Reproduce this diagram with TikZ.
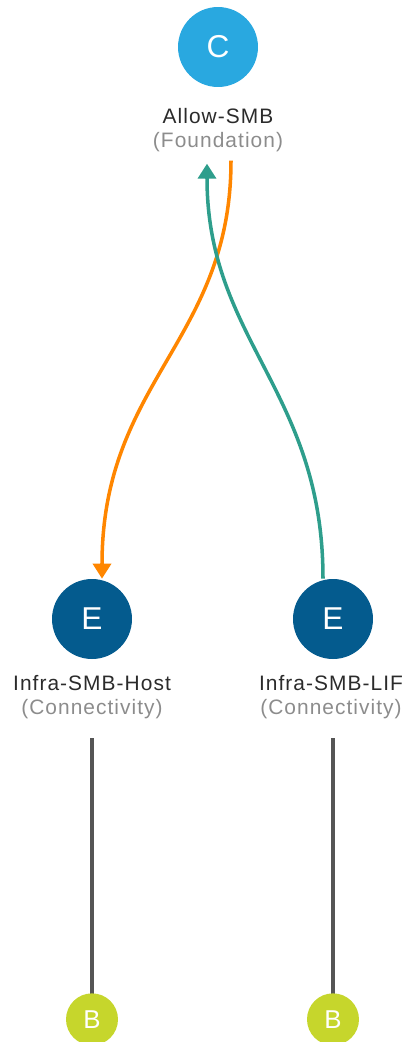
\documentclass[tikz,border=0pt]{standalone}
\usepackage{fontspec}
\setmainfont{Liberation Sans}
\newfontfamily\lblfont{Liberation Sans}[LetterSpace=5]
\usepackage{xcolor}
\usetikzlibrary{arrows.meta,calc}
\definecolor{capBlue}{HTML}{29A8E0}
\definecolor{epgBlue}{HTML}{045B8E}
\definecolor{bdGreen}{HTML}{C6D62C}
\definecolor{consOrange}{HTML}{FF8600}
\definecolor{provTeal}{HTML}{2E9E8C}
\definecolor{linkGray}{HTML}{555555}
\definecolor{lblDark}{HTML}{2B2B2B}
\definecolor{lblGray}{HTML}{8C8C8C}

\begin{document}
\begin{tikzpicture}[x=0.02cm,y=-0.02cm]
	\tikzstyle{every node}+=[inner sep=0pt]
	\tikzstyle{tag}=[circle,minimum size=1.6cm,text=white,font=\fontsize{18}{18}\selectfont]
	\tikzstyle{bd}=[circle,fill=bdGreen,minimum size=1.04cm,text=white,font=\fontsize{14.7}{14.7}\selectfont]
	\tikzstyle{epgname}=[anchor=base,text=lblDark,font=\lblfont\fontsize{11.9}{12}\selectfont]
	\tikzstyle{epgkind}=[anchor=base,text=lblGray,font=\lblfont\fontsize{11.9}{12}\selectfont]
	\tikzstyle{flow}=[line width=2pt,-{Triangle[width=0.36cm,length=0.3cm]}]
	\tikzstyle{link}=[line width=2pt,linkGray]
	\useasboundingbox (0,0) rectangle (409,1042);
	\node[tag,fill=capBlue] (allow) at (218,47) {C};
	\node[epgname] (allowName) at (218,123) {Allow-SMB};
	\node[epgkind] (allowKind) at (218,147) {(Foundation)};
	\node[tag,fill=epgBlue] (host) at (92,619) {E};
	\node[epgname] (hostName) at (92,690) {Infra-SMB-Host};
	\node[epgkind] (hostKind) at (92,714) {(Connectivity)};
	\node[tag,fill=epgBlue] (lif) at (333,619) {E};
	\node[epgname] (lifName) at (331,690) {Infra-SMB-LIF};
	\node[epgkind] (lifKind) at (331,714) {(Connectivity)};
	\draw[link] ($(host.south)+(0,79)$) -- ($(host.south)+(0,360)$) node[bd,anchor=center] (hostB) {B};
	\draw[link] ($(lif.south)+(0,79)$) -- ($(lif.south)+(0,360)$) node[bd,anchor=center] (lifB) {B};
	\draw[flow,consOrange] ($(allowKind.south)+(13,9)$) .. controls +(0,180) and +(0,-198) .. ($(host.north)+(10,0)$);
	\draw[flow,provTeal] ($(lif.north)+(-10,0)$) .. controls +(0,-188) and +(0,177) .. ($(allowKind.south)+(-11,12)$);
\end{tikzpicture}
\end{document}
